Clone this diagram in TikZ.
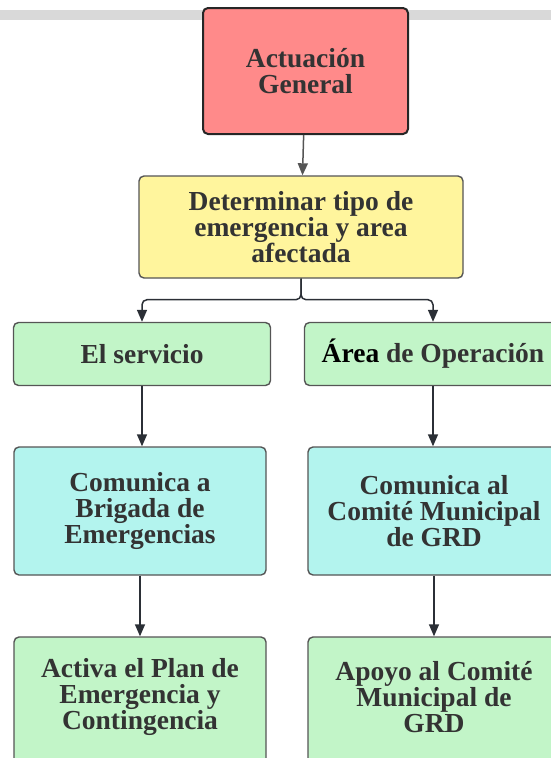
\documentclass[tikz,border=0pt]{standalone}
\usepackage{fontspec}
\newfontfamily\boxfont{Liberation Serif}[BoldFont={Liberation Serif Bold}]
\usetikzlibrary{arrows.meta}
\definecolor{txt}{HTML}{333333}
\definecolor{redfill}{HTML}{FF8A8A}
\definecolor{yelfill}{HTML}{FFF59D}
\definecolor{grnfill}{HTML}{C2F5C8}
\definecolor{cyanfill}{HTML}{B3F4EE}
\definecolor{edge}{HTML}{555555}
\definecolor{arrdark}{HTML}{2B2F36}
\definecolor{bar}{HTML}{D9D9D9}
\tikzset{
  x=1pt, y=-1pt,
  lbl/.style={align=center, font=\boxfont\bfseries\fontsize{27.5}{26}\selectfont, text=txt, inner sep=0pt},
  box/.style={lbl, draw=edge, line width=1.4pt, rounded corners=5pt},
  arr/.style={draw=arrdark, line width=1.5pt, -{Triangle[length=12pt,width=10pt]}},
}
\begin{document}
\begin{tikzpicture}
\useasboundingbox (0,0) rectangle (551,758);
\clip (0,0) rectangle (551,758);
\fill[bar] (0,10) rectangle (551,20);
\node[box, fill=redfill, draw=black!85, line width=2pt, minimum width=205pt, minimum height=126pt] (A) at (305.5,71) {Actuación\\General};
\node[box, fill=yelfill, minimum width=324pt, minimum height=102pt] (Y) at (301,227) {Determinar tipo de\\emergencia y area\\afectada};
\node[box, fill=grnfill, minimum width=257pt, minimum height=63pt] (GL) at (142,354) {El servicio};
\node[box, fill=grnfill, minimum width=257pt, minimum height=63pt] (GR) at (433,354) {{\color{black}Área} de Operación};
\node[box, fill=cyanfill, minimum width=252pt, minimum height=128pt] (CL) at (140,511) {Comunica a\\Brigada de\\Emergencias};
\node[box, fill=cyanfill, minimum width=252pt, minimum height=128pt] (CR) at (434,511) {Comunica al\\Comité Municipal\\de GRD};
\node[box, fill=grnfill, minimum width=252pt, minimum height=160pt] (BL) at (140,717) {};
\node[box, fill=grnfill, minimum width=252pt, minimum height=160pt] (BR) at (434,717) {};
\node[lbl] (BLt) at (140,697) {Activa el Plan de\\Emergencia y\\Contingencia};
\node[lbl] (BRt) at (434,697) {Apoyo al Comité\\Municipal de\\GRD};
\draw[arr, draw=edge] (A) -- (Y);
\draw[arr, rounded corners=5pt] (Y.south) -- ++(0,21) -| (GL.north);
\draw[arr, rounded corners=5pt] (Y.south) -- ++(0,21) -| (GR.north);
\draw[arr] (GL) -- (GL |- CL.north);
\draw[arr] (GR) -- (GR |- CR.north);
\draw[arr] (CL) -- (BL);
\draw[arr] (CR) -- (BR);
\end{tikzpicture}
\end{document}
